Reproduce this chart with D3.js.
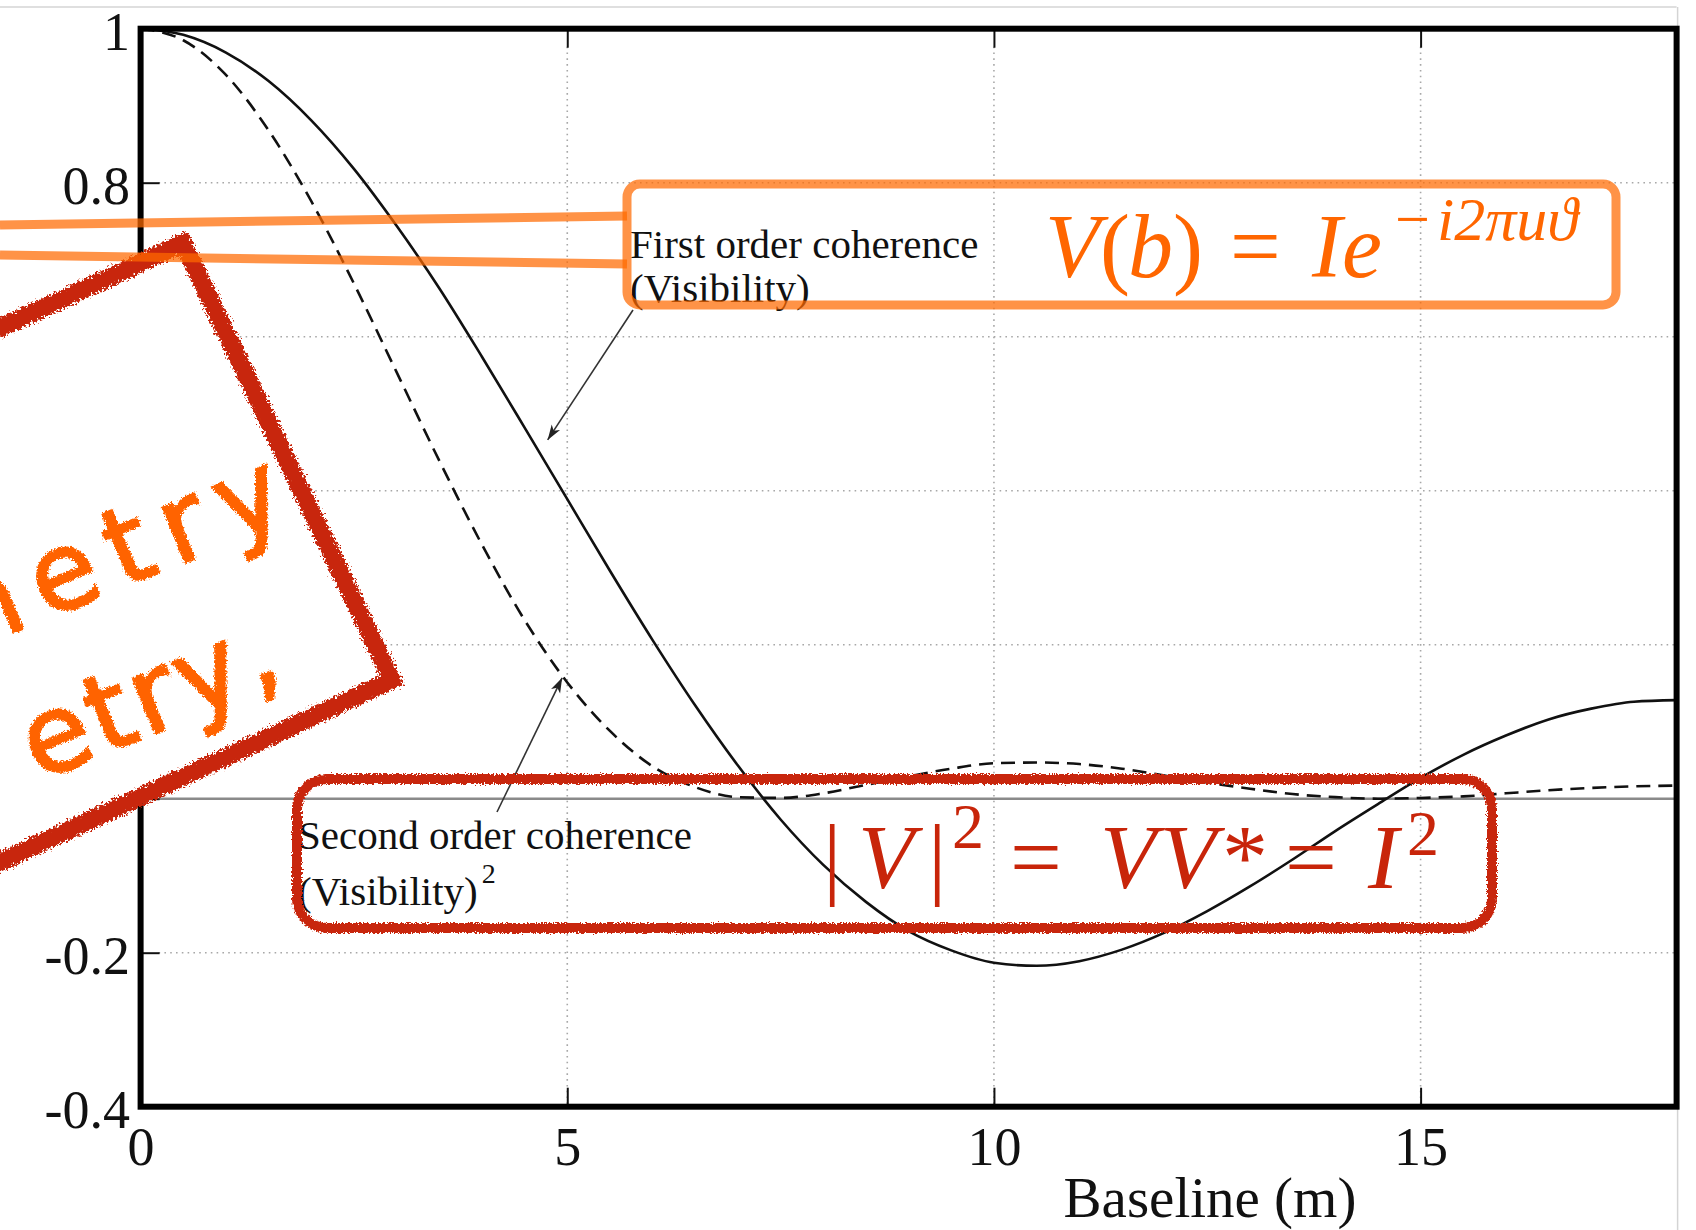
<!DOCTYPE html>
<html><head><meta charset="utf-8">
<script src="https://cdn.jsdelivr.net/npm/d3@7"></script>
<style>html,body{margin:0;padding:0;background:#fff;overflow:hidden}svg{display:block}</style>
</head><body>
<svg id="chart" width="1696" height="1230"></svg>
<script>
// ---- data ----
const baselineM = [0,0.5,1,1.5,2,2.5,3,3.5,4,4.5,5,5.5,6,6.5,7,7.5,8,8.5,9,9.5,10,10.5,11,11.5,12,12.5,13,13.5,14,14.5,15,15.5,16,16.5,17,17.5,18];
const firstOrder = [1,0.992,0.969,0.932,0.881,0.818,0.744,0.663,0.574,0.482,0.389,0.296,0.206,0.121,0.043,-0.027,-0.086,-0.134,-0.172,-0.197,-0.213,-0.217,-0.211,-0.196,-0.174,-0.146,-0.114,-0.079,-0.042,-0.007,0.027,0.057,0.082,0.103,0.117,0.126,0.128];
const secondOrder = [1,0.985,0.940,0.868,0.776,0.669,0.554,0.439,0.330,0.232,0.151,0.088,0.042,0.015,0.002,0.001,0.007,0.018,0.029,0.039,0.046,0.047,0.045,0.039,0.030,0.021,0.013,0.006,0.002,0.000,0.001,0.003,0.007,0.011,0.014,0.016,0.017];
const xTickValues = [0,5,10,15];
const yTickValues = [-0.4,-0.2,0,0.2,0.4,0.6,0.8,1];
const yTickLabels = ["-0.4","-0.2","","0.2","0.4","0.6","0.8","1"];
const xAxisTitle = "Baseline (m)";
const firstLabel = ["First order coherence","(Visibility)"];
const secondLabel = ["Second order coherence","(Visibility)","2"];
const firstArrowTip = [4.77, 0.466];
const secondArrowTip = [4.94, 0.157];
const stampLines = ["metry","etry,"];

// ---- layout ----
const W = 1696, H = 1230;
const P = {left:140.6, right:1676.6, top:28.7, bottom:1106.7};
const x = d3.scaleLinear().domain([0,18]).range([P.left,P.right]);
const y = d3.scaleLinear().domain([-0.4,1]).range([P.bottom,P.top]);
const serif = "'Liberation Serif','Times New Roman',serif";

const svg = d3.select("#chart");
const defs = svg.append("defs");
defs.append("clipPath").attr("id","plotclip").append("rect")
  .attr("x",P.left).attr("y",P.top).attr("width",P.right-P.left).attr("height",P.bottom-P.top);
function roughFilter(id, freq, scale, seed){
  const f = defs.append("filter").attr("id",id).attr("filterUnits","userSpaceOnUse")
    .attr("x",-60).attr("y",-60).attr("width",W+120).attr("height",H+120);
  f.append("feTurbulence").attr("type","fractalNoise").attr("baseFrequency",freq).attr("numOctaves",2).attr("seed",seed).attr("result","n");
  f.append("feDisplacementMap").attr("in","SourceGraphic").attr("in2","n").attr("scale",scale)
    .attr("xChannelSelector","R").attr("yChannelSelector","G");
}
roughFilter("rough",0.55,6,4);
roughFilter("rough2",0.45,11,7);
const mk = defs.append("marker").attr("id","arrow").attr("viewBox","-16 -8 18 16")
  .attr("refX",0).attr("refY",0).attr("markerWidth",18).attr("markerHeight",16)
  .attr("markerUnits","userSpaceOnUse").attr("orient","auto");
mk.append("path").attr("d","M0,0L-15,-5L-11,0L-15,5Z").attr("fill","#222");

// outer screenshot frame
svg.append("line").attr("x1",0).attr("x2",P.right).attr("y1",7).attr("y2",7).attr("stroke","#d4d4d4").attr("stroke-width",1.5);
svg.append("line").attr("x1",P.right+1).attr("x2",P.right+1).attr("y1",7).attr("y2",H).attr("stroke","#d4d4d4").attr("stroke-width",1.5);

// grid
const grid = svg.append("g").attr("stroke","#a8a8a8").attr("stroke-width",1.6).attr("stroke-dasharray","1.6,4.2");
grid.selectAll(".gh").data(yTickValues.filter(v=>v>-0.4 && v<1 && v!==0)).join("line")
  .attr("x1",P.left+18).attr("x2",P.right).attr("y1",d=>y(d)).attr("y2",d=>y(d));
grid.selectAll(".gv").data(xTickValues.filter(v=>v>0)).join("line")
  .attr("x1",d=>x(d)).attr("x2",d=>x(d)).attr("y1",P.top+18).attr("y2",P.bottom);
// zero line
svg.append("line").attr("x1",P.left).attr("x2",P.right).attr("y1",y(0)).attr("y2",y(0))
  .attr("stroke","#8a8a8a").attr("stroke-width",2.4);

// curves
const line = (vals)=>d3.line().x((d,i)=>x(baselineM[i])).y(d=>y(d)).curve(d3.curveMonotoneX)(vals);
const curves = svg.append("g").attr("clip-path","url(#plotclip)");
curves.append("path").attr("d",line(firstOrder)).attr("fill","none").attr("stroke","#111").attr("stroke-width",2.6);
curves.append("path").attr("d",line(secondOrder)).attr("fill","none").attr("stroke","#111").attr("stroke-width",2.6)
  .attr("stroke-dasharray","14,8");

// axes
function styleAxis(g){ g.select(".domain").remove(); g.selectAll(".tick line").attr("stroke","#111").attr("stroke-width",2);
  g.selectAll("text").attr("font-family",serif).attr("font-size",54).attr("fill","#111"); }
svg.append("g").attr("transform",`translate(0,${P.bottom})`)
  .call(d3.axisBottom(x).tickValues(xTickValues).tickSizeInner(-19).tickSizeOuter(0).tickPadding(20).tickFormat(d3.format("d")))
  .call(styleAxis);
svg.append("g").attr("transform",`translate(0,${P.top})`)
  .call(d3.axisTop(x).tickValues(xTickValues.filter(v=>v>0)).tickSizeInner(-19).tickSizeOuter(0).tickFormat(""))
  .call(styleAxis);
const yAxisG = svg.append("g").attr("transform",`translate(${P.left},0)`)
  .call(d3.axisLeft(y).tickValues(yTickValues).tickSizeInner(-19).tickSizeOuter(0).tickPadding(10.5).tickFormat((d,i)=>yTickLabels[i]))
  .call(styleAxis);
yAxisG.selectAll("text").attr("dy","0.38em");
svg.append("rect").attr("x",P.left).attr("y",P.top).attr("width",P.right-P.left).attr("height",P.bottom-P.top)
  .attr("fill","none").attr("stroke","#000").attr("stroke-width",6);

// axis title
svg.append("text").attr("x",1210).attr("y",1217).attr("text-anchor","middle")
  .attr("font-family",serif).attr("font-size",57).attr("fill","#111").text(xAxisTitle);

// curve labels
const t1 = svg.append("text").attr("font-family",serif).attr("font-size",41).attr("fill","#111");
t1.append("tspan").attr("x",630).attr("y",258).text(firstLabel[0]);
t1.append("tspan").attr("x",630).attr("y",302).text(firstLabel[1]);
const t2 = svg.append("text").attr("font-family",serif).attr("font-size",41).attr("fill","#111");
t2.append("tspan").attr("x",298).attr("y",849).text(secondLabel[0]);
t2.append("tspan").attr("x",298).attr("y",905).text(secondLabel[1]);
t2.append("tspan").attr("dx",4).attr("y",883).attr("font-size",28).text(secondLabel[2]);

// arrows
svg.append("line").attr("x1",633).attr("y1",310).attr("x2",x(firstArrowTip[0])).attr("y2",y(firstArrowTip[1]))
  .attr("stroke","#333").attr("stroke-width",1.6).attr("marker-end","url(#arrow)");
svg.append("line").attr("x1",497).attr("y1",812).attr("x2",x(secondArrowTip[0])).attr("y2",y(secondArrowTip[1]))
  .attr("stroke","#333").attr("stroke-width",1.6).attr("marker-end","url(#arrow)");

// ---- overlay annotations ----
const red = "#c8250a";
svg.append("rect").attr("x",297).attr("y",779).attr("width",1195).attr("height",149).attr("rx",30)
  .attr("fill","none").attr("stroke",red).attr("stroke-width",10).attr("filter","url(#rough)");
const f2 = svg.append("text").attr("font-family",serif).attr("font-size",92).attr("fill",red);
[[823,888,"|",0,92],[858,888,"V",1,92],[928,888,"|",0,92],[952,848,"2",0,64],[1010,888,"=",0,92],
 [1100,888,"V",1,92],[1160,888,"V",1,92],[1222,888,"*",0,92],[1285,888,"=",0,92],[1368,888,"I",1,92],[1407,855,"2",0,64]]
 .forEach(p=>f2.append("tspan").attr("x",p[0]).attr("y",p[1]).attr("font-style",p[3]?"italic":"normal").attr("font-size",p[4]).text(p[2]));

// stamp
const T=[183,243], B=[392,680], dir=[-0.907,0.421], L=900;
svg.append("polygon").attr("points",[T,B,[B[0]+dir[0]*L,B[1]+dir[1]*L],[T[0]+dir[0]*L,T[1]+dir[1]*L]].map(p=>p.join(",")).join(" "))
  .attr("fill","#fff").attr("stroke",red).attr("stroke-width",18).attr("stroke-linejoin","miter").attr("filter","url(#rough2)");
const sOuter = svg.append("g").attr("filter","url(#rough)");
const sg = sOuter.append("g").attr("transform","translate(294,523) rotate(-22.3)");
sg.append("text").attr("x",15).attr("y",-5).attr("text-anchor","end").attr("font-family","'DejaVu Sans',sans-serif")
  .attr("font-size",108).attr("letter-spacing",16).attr("fill","#ff6400").attr("stroke","#ff6400").attr("stroke-width",2.5)
  .text(stampLines[0]);
sg.append("text").attr("x",-63).attr("y",142).attr("text-anchor","end").attr("font-family","'DejaVu Sans',sans-serif")
  .attr("font-size",108).attr("letter-spacing",4).attr("fill","#ff6400").attr("stroke","#ff6400").attr("stroke-width",2.5)
  .text(stampLines[1]);

// orange callout box + leader lines
const og = svg.append("g").attr("stroke","#ff6a00").attr("stroke-opacity",0.72).attr("fill","none").attr("stroke-width",9);
og.append("line").attr("x1",0).attr("y1",225).attr("x2",627).attr("y2",216);
og.append("line").attr("x1",0).attr("y1",255).attr("x2",627).attr("y2",264);
og.append("rect").attr("x",627).attr("y",184).attr("width",989).attr("height",121).attr("rx",13);
const orange = "#ff6600";
const f1 = svg.append("text").attr("font-family",serif).attr("font-size",90).attr("fill",orange);
[[1045,277,"V",1,90],[1100,277,"(",0,90],[1128,277,"b",1,90],[1173,277,")",0,90],[1230,277,"=",0,90],
 [1312,277,"Ie",1,90],[1395,240,"\u2212",0,62],[1437,240,"i2\u03c0u\u03d1",1,62]]
 .forEach(p=>f1.append("tspan").attr("x",p[0]).attr("y",p[1]).attr("font-style",p[3]?"italic":"normal").attr("font-size",p[4]).text(p[2]));
</script>
</body></html>
